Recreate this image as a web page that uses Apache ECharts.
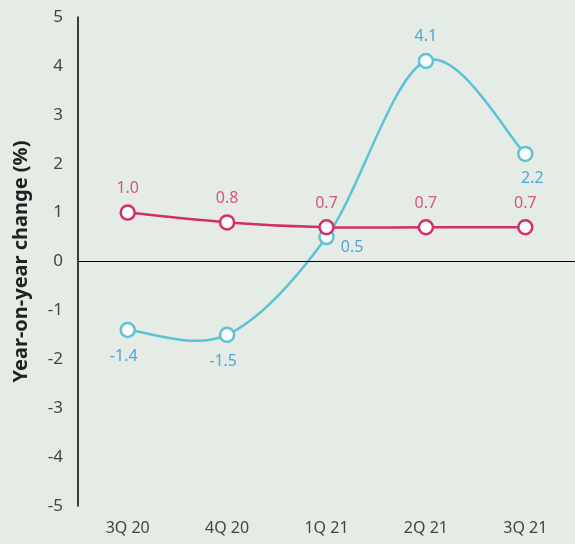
<!DOCTYPE html>
<html>
<head>
<meta charset="utf-8">
<script src="https://cdn.jsdelivr.net/npm/echarts@6/dist/echarts.min.js"></script>
<style>
  html, body { margin: 0; padding: 0; background: #e5ece5; }
  #chart { width: 575px; height: 544px; }
</style>
</head>
<body>
<div id="chart"></div>
<script>
// Quarters on the x axis
const quarters = ['3Q 20', '4Q 20', '1Q 21', '2Q 21', '3Q 21'];
// Year-on-year change (%), two series
const cyanValues = [-1.4, -1.5, 0.5, 4.1, 2.2];
const pinkValues = [1.0, 0.8, 0.7, 0.7, 0.7];
// Where each cyan value label sits relative to its point
const cyanLabelPos = ['bottom', 'bottom', 'right', 'top', 'bottom'];

const FONT = 'Noto Sans';
const CYAN = '#5cc3d6';
const CYAN_TEXT = '#4da5d8';
const PINK = '#d42e68';
const PINK_TEXT = '#d6557f';

const chart = echarts.init(document.getElementById('chart'));

// Catmull-Rom style curve: each item draws the segment to the next point,
// with control points taken from the neighbouring points.
function splineSeries(values, color, z) {
  return {
    type: 'custom',
    data: values.map((v, i) => [i, v]),
    encode: { x: 0, y: 1 },
    silent: true,
    z: z,
    renderItem: function (params, api) {
      const i = params.dataIndex;
      const n = values.length;
      if (i >= n - 1) return null;
      const pt = k => api.coord([Math.max(0, Math.min(n - 1, k)), values[Math.max(0, Math.min(n - 1, k))]]);
      const p0 = pt(i - 1), p1 = pt(i), p2 = pt(i + 1), p3 = pt(i + 2);
      return {
        type: 'bezierCurve',
        shape: {
          x1: p1[0], y1: p1[1],
          x2: p2[0], y2: p2[1],
          cpx1: p1[0] + (p2[0] - p0[0]) / 6, cpy1: p1[1] + (p2[1] - p0[1]) / 6,
          cpx2: p2[0] - (p3[0] - p1[0]) / 6, cpy2: p2[1] - (p3[1] - p1[1]) / 6
        },
        style: { stroke: color, lineWidth: 2.5, fill: null }
      };
    }
  };
}

const cyanData = cyanValues.map((v, i) => {
  const pos = cyanLabelPos[i];
  let offset = [0, 0];
  if (pos === 'bottom') offset = i === 4 ? [7, 0] : [-4, 2];
  if (pos === 'right') offset = [-2, 10];
  return { value: v, label: { position: pos, offset: offset } };
});

chart.setOption({
  backgroundColor: '#e5ece5',
  animation: false,
  grid: { left: 78, right: 0, top: 17, bottom: 38 },
  xAxis: {
    type: 'category',
    data: quarters,
    boundaryGap: true,
    axisLine: { show: false },
    axisTick: { show: false },
    axisLabel: { color: '#444', fontFamily: FONT, fontSize: 16, margin: 14 }
  },
  yAxis: {
    type: 'value',
    min: -5, max: 5, interval: 1,
    name: 'Year-on-year change (%)',
    nameLocation: 'middle',
    nameGap: 47,
    nameTextStyle: { color: '#222', fontFamily: FONT, fontSize: 20, fontWeight: 'bold' },
    axisLine: { show: true, onZero: false, lineStyle: { color: '#000', width: 1.5 } },
    axisTick: { show: false },
    splitLine: { show: false },
    axisLabel: { color: '#444', fontFamily: FONT, fontSize: 17, margin: 15 }
  },
  series: [
    splineSeries(pinkValues, PINK, 2),
    splineSeries(cyanValues, CYAN, 3),
    {
      type: 'line',
      data: cyanData,
      symbol: 'circle',
      symbolSize: 14,
      lineStyle: { opacity: 0 },
      itemStyle: { color: '#fff', borderColor: CYAN, borderWidth: 2.5 },
      label: {
        show: true, distance: 8,
        color: CYAN_TEXT, fontFamily: FONT, fontSize: 16,
        formatter: p => p.value.toFixed(1)
      },
      z: 4
    },
    {
      type: 'line',
      data: pinkValues,
      symbol: 'circle',
      symbolSize: 14,
      lineStyle: { opacity: 0 },
      itemStyle: { color: '#fff', borderColor: PINK, borderWidth: 2.5 },
      label: {
        show: true, position: 'top', distance: 8,
        color: PINK_TEXT, fontFamily: FONT, fontSize: 16,
        formatter: p => p.value.toFixed(1)
      },
      markLine: {
        silent: true,
        symbol: 'none',
        label: { show: false },
        lineStyle: { color: '#000', width: 1.2, type: 'solid' },
        data: [{ yAxis: 0 }]
      },
      z: 5
    }
  ]
});
</script>
</body>
</html>
